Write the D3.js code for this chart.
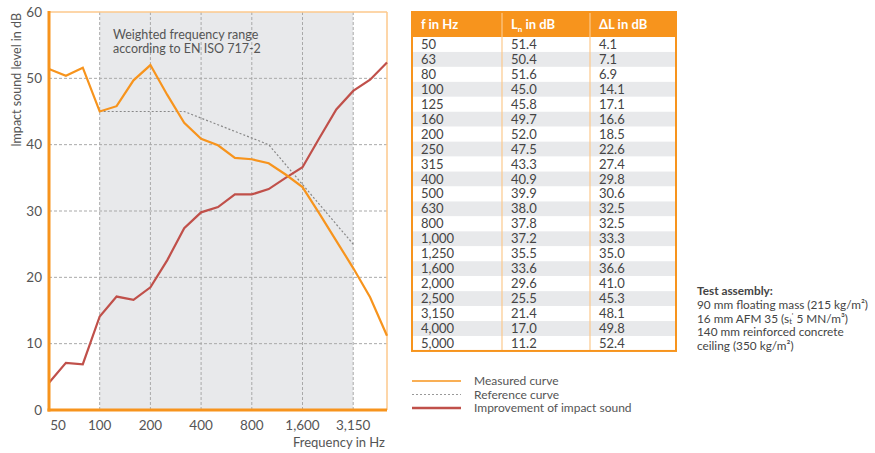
<!DOCTYPE html>
<html><head><meta charset="utf-8">
<script src="https://cdn.jsdelivr.net/npm/d3@7"></script>
<style>
body{margin:0;background:#fff;}
svg{display:block;font-family:Lato,"Open Sans",sans-serif;}
</style></head>
<body><svg id="c" width="875" height="453"></svg>
<script>
const freqLabels = ["50","63","80","100","125","160","200","250","315","400","500","630","800","1,000","1,250","1,600","2,000","2,500","3,150","4,000","5,000"];
const measured = [51.4,50.4,51.6,45.0,45.8,49.7,52.0,47.5,43.3,40.9,39.9,38.0,37.8,37.2,35.5,33.6,29.6,25.5,21.4,17.0,11.2];
const improvement = [4.1,7.1,6.9,14.1,17.1,16.6,18.5,22.6,27.4,29.8,30.6,32.5,32.5,33.3,35.0,36.6,41.0,45.3,48.1,49.8,52.4];
const refFreqs = ["100","125","160","200","250","315","400","500","630","800","1,000","1,250","1,600","2,000","2,500","3,150"];
const reference = [45,45,45,45,45,45,44,43,42,41,40,37,34,31,28,25];
const xTickLabels = ["50","100","200","400","800","1,600","3,150"];
const yTicks = [0,10,20,30,40,50,60];
const tableHeaders = ["f in Hz","L|n| in dB","ΔL in dB"];
const legendItems = ["Measured curve","Reference curve","Improvement of impact sound"];
const assembly = ["90 mm floating mass (215 kg/m²)","16 mm AFM 35 (s|t|'| 5 MN/m³)","140 mm reinforced concrete","ceiling (350 kg/m²)"];

const svg = d3.select("#c");
const L=49,R=387,T=12,B=410;
const x = d3.scalePoint().domain(freqLabels).range([L,R]);
const y = d3.scaleLinear().domain([0,60]).range([B,T]);
const txt="#555", orange="#f7941d", red="#c0504a";

// shaded weighted range
svg.append("rect").attr("x",x("100")).attr("y",T).attr("width",x("3,150")-x("100")).attr("height",B-T).attr("fill","#e8e9eb");

// grid
const g = svg.append("g");
g.selectAll("line.h").data(yTicks.filter(d=>d>0&&d<60)).join("line")
 .attr("x1",L).attr("x2",R).attr("y1",d=>y(d)).attr("y2",d=>y(d))
 .attr("stroke","#a9a9a9").attr("stroke-width",1).attr("stroke-dasharray","3,2");
g.selectAll("line.v").data(xTickLabels.filter(d=>d!=="50")).join("line")
 .attr("x1",d=>x(d)).attr("x2",d=>x(d)).attr("y1",T).attr("y2",B)
 .attr("stroke","#a9a9a9").attr("stroke-width",1).attr("stroke-dasharray","3,2");

// borders
svg.append("line").attr("x1",L).attr("x2",R).attr("y1",T).attr("y2",T).attr("stroke","#fcc98c").attr("stroke-width",1.5);
svg.append("line").attr("x1",R).attr("x2",R).attr("y1",T).attr("y2",B).attr("stroke","#fcc98c").attr("stroke-width",1.5);

// annotation
svg.append("text").attr("x",113).attr("y",39).attr("fill",txt).attr("font-size",12.5).text("Weighted frequency range");
svg.append("text").attr("x",113).attr("y",53).attr("fill",txt).attr("font-size",12.5).text("according to EN ISO 717-2");

// lines
const line = d3.line().x(d=>x(d[0])).y(d=>y(d[1]));
svg.append("path").datum(refFreqs.map((f,i)=>[f,reference[i]])).attr("d",line)
 .attr("fill","none").attr("stroke","#888").attr("stroke-width",1.2).attr("stroke-dasharray","2,2");
svg.append("path").datum(freqLabels.map((f,i)=>[f,improvement[i]])).attr("d",line)
 .attr("fill","none").attr("stroke",red).attr("stroke-width",2.2);
svg.append("path").datum(freqLabels.map((f,i)=>[f,measured[i]])).attr("d",line)
 .attr("fill","none").attr("stroke",orange).attr("stroke-width",2.2);

svg.append("line").attr("x1",L).attr("x2",L).attr("y1",T-1).attr("y2",B+1.5).attr("stroke",orange).attr("stroke-width",3);
svg.append("line").attr("x1",L-1.5).attr("x2",R).attr("y1",B).attr("y2",B).attr("stroke",orange).attr("stroke-width",3);

// axes labels
svg.selectAll("text.yt").data(yTicks).join("text").attr("x",42).attr("y",d=>y(d)+4.5)
 .attr("text-anchor","end").attr("fill",txt).attr("font-size",13.5).text(d=>d);
svg.selectAll("text.xt").data(xTickLabels).join("text")
 .attr("x",d=>d==="50"?x(d)+9:x(d)).attr("y",430).attr("text-anchor","middle")
 .attr("fill",txt).attr("font-size",13.5).text(d=>d);
svg.append("text").attr("transform","translate(21,13) rotate(-90)").attr("text-anchor","end")
 .attr("fill",txt).attr("font-size",12.5).text("Impact sound level in dB");
svg.append("text").attr("x",385).attr("y",447).attr("text-anchor","end").attr("fill",txt).attr("font-size",13).text("Frequency in Hz");

// table
const tx=[412,502,590,676], tTop=12, hH=25, rH=14.95;
const tb = svg.append("g");
tb.append("rect").attr("x",tx[0]).attr("y",tTop).attr("width",tx[3]-tx[0]).attr("height",hH).attr("fill",orange);
freqLabels.forEach((f,i)=>{
  const ry=tTop+hH+i*rH;
  tb.append("rect").attr("x",tx[0]).attr("y",ry).attr("width",tx[3]-tx[0]).attr("height",rH).attr("fill",i%2?"#e8e9eb":"#fff");
  const vals=[f,measured[i].toFixed(1),improvement[i].toFixed(1)];
  vals.forEach((v,j)=>tb.append("text").attr("x",tx[j]+9).attr("y",ry+rH/2+4.5).attr("fill","#444").attr("font-size",13).text(v));
});
const tBot=tTop+hH+21*rH;
[1,2].forEach(j=>tb.append("line").attr("x1",tx[j]).attr("x2",tx[j]).attr("y1",tTop).attr("y2",tBot).attr("stroke","#fcc98c").attr("stroke-width",1.2));
tb.append("rect").attr("x",tx[0]).attr("y",tTop).attr("width",tx[3]-tx[0]).attr("height",tBot-tTop).attr("fill","none").attr("stroke",orange).attr("stroke-width",2);
tableHeaders.forEach((h,j)=>{
  const t=tb.append("text").attr("x",tx[j]+9).attr("y",tTop+17).attr("fill","#fff").attr("font-size",13).attr("font-weight","bold");
  const parts=h.split("|");
  if(parts.length>1){t.append("tspan").text(parts[0]);t.append("tspan").attr("font-size",8).attr("dy",3).text(parts[1]);t.append("tspan").attr("font-size",13).attr("dy",-3).text(parts[2]);}
  else t.text(h);
});

// legend
const lg=svg.append("g");
const lstyles=[{c:orange,w:1.5,d:null},{c:"#999",w:1.2,d:"2,2"},{c:red,w:2.5,d:null}];
legendItems.forEach((s,i)=>{
  const ly=381+i*13.5;
  lg.append("line").attr("x1",412).attr("x2",461).attr("y1",ly).attr("y2",ly).attr("stroke",lstyles[i].c).attr("stroke-width",lstyles[i].w).attr("stroke-dasharray",lstyles[i].d);
  lg.append("text").attr("x",474).attr("y",ly+4).attr("fill",txt).attr("font-size",12).text(s);
});

// test assembly
const ta=svg.append("g").attr("font-size",11.8).attr("fill","#444");
ta.append("text").attr("x",697).attr("y",295).attr("font-weight","bold").text("Test assembly:");
assembly.forEach((s,i)=>{
  const t=ta.append("text").attr("x",697).attr("y",309+i*13.6);
  const p=s.split("|");
  if(p.length>1){
    t.append("tspan").text(p[0]);
    t.append("tspan").attr("font-size",7.5).attr("dy",1).text(p[1]);
    t.append("tspan").attr("font-size",7.5).attr("dy",-5).text(p[2]);
    t.append("tspan").attr("font-size",11.8).attr("dy",4).text(p[3]);
  }
  else t.text(s);
});
</script></body></html>
